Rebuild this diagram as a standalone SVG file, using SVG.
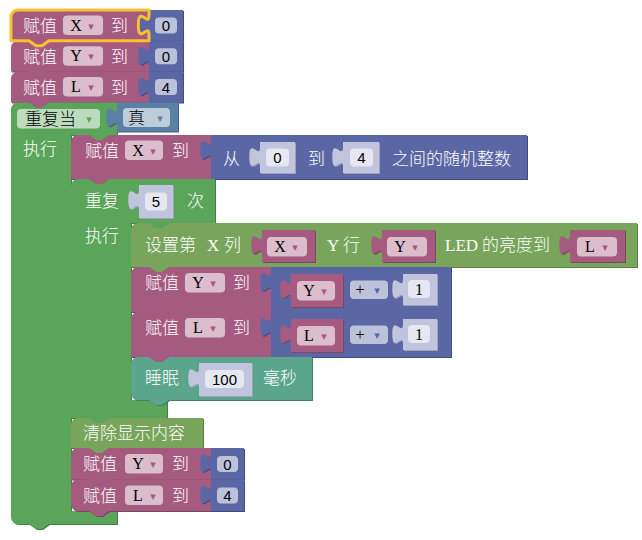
<svg xmlns="http://www.w3.org/2000/svg" width="642" height="540" viewBox="0 0 642 540">
<style>
.pk{fill:#A55B80}.pk.sh{fill:#7E4563}
.bl{fill:#5B67A5}.bl.sh{fill:#434C7E}
.gr{fill:#5BA55B}.gr.sh{fill:#437E43}
.lg{fill:#5B80A5}.lg.sh{fill:#43617E}
.ol{fill:#78A55B}.ol.sh{fill:#5A7E43}
.tl{fill:#5BA58C}.tl.sh{fill:#437E6A}
.sd{fill:#C0C4DD}.sd.sh{fill:#9EA3C2}
.sh{transform:translate(1px,1px)}
.f{fill:#fff;fill-opacity:.6}
.t{font-family:"Liberation Serif","Noto Sans CJK SC",serif;font-size:17px;font-weight:300}
.w{fill:#fff}.k{fill:#000}
.v{font-family:"Liberation Serif",serif;font-size:16px;fill:#000;text-anchor:middle}
.n{font-family:"Liberation Sans",sans-serif;font-size:15px;fill:#000;text-anchor:middle}
.a{font-family:"DejaVu Sans",sans-serif;font-size:11px;text-anchor:middle}
.ap{fill:#A55B80}.ab{fill:#5B67A5}.ag{fill:#5BA55B}.al{fill:#5B80A5}
</style>
<defs>
<path id="p-a1" d="M11,17 A7,7 0 0 1 18,10 H149 V40.8 H49 l-7,5 -6,0 -7,-5 H11 Z"/>
<path id="p-a2" d="M11,47.8 A7,7 0 0 1 18,40.8 H29 l7,5 6,0 7,-5 H149 V71.6 H49 l-7,5 -6,0 -7,-5 H11 Z"/>
<path id="p-a3" d="M11,78.6 A7,7 0 0 1 18,71.6 H29 l7,5 6,0 7,-5 H149 V102.4 H49 l-7,5 -6,0 -7,-5 H11 Z"/>
<path id="p-va1" d="M149,10 H183 V40.8 H149 V35 C149,21.7 138.3,45.7 138.3,25 C138.3,4.3 149,28.3 149,15 Z"/>
<path id="p-va2" d="M149,40.8 H183 V71.6 H149 V65.8 C149,52.5 138.3,76.5 138.3,55.8 C138.3,35.1 149,59.1 149,45.8 Z"/>
<path id="p-va3" d="M149,71.6 H183 V102.4 H149 V96.6 C149,83.3 138.3,107.3 138.3,86.6 C138.3,65.9 149,89.9 149,76.6 Z"/>
<path id="p-b" d="M11,109.4 A7,7 0 0 1 18,102.4 H29 l7,5 6,0 7,-5 H117 V135 H109 l-7,5 -6,0 -7,-5 H71 V511 H117 V524 H49 l-7,5 -6,0 -7,-5 H18 A7,7 0 0 1 11,517 Z"/>
<path id="p-true" d="M117,102.4 H178 V131.4 H117 V127.4 C117,114.1 106.3,138.1 106.3,117.4 C106.3,96.7 117,120.7 117,107.4 Z"/>
<path id="p-b1" d="M71,142 A7,7 0 0 1 78,135 H89 l7,5 6,0 7,-5 H211 V179 H109 l-7,5 -6,0 -7,-5 H71 Z"/>
<path id="p-rand" d="M211,135 H527 V179 H211 V160 C211,146.7 200.3,170.7 200.3,150 C200.3,129.3 211,153.3 211,140 Z"/>
<path id="p-s0" d="M260,142 H295 V173 H260 V167 C260,153.7 249.3,177.7 249.3,157 C249.3,136.3 260,160.3 260,147 Z"/>
<path id="p-s4" d="M343,142 H379 V173 H343 V167 C343,153.7 332.3,177.7 332.3,157 C332.3,136.3 343,160.3 343,147 Z"/>
<path id="p-b2" d="M71,186 A7,7 0 0 1 78,179 H89 l7,5 6,0 7,-5 H215 V223 H169 l-7,5 -6,0 -7,-5 H131 V400 H167 V418 H109 l-7,5 -6,0 -7,-5 H71 Z"/>
<path id="p-s5" d="M139,185 H173 V218 H139 V210 C139,196.7 128.3,220.7 128.3,200 C128.3,179.3 139,203.3 139,190 Z"/>
<path id="p-c1" d="M131,230 A7,7 0 0 1 138,223 H149 l7,5 6,0 7,-5 H637 V267 H169 l-7,5 -6,0 -7,-5 H131 Z"/>
<path id="p-vx" d="M262,230 H315 V262 H262 V255 C262,241.7 251.3,265.7 251.3,245 C251.3,224.3 262,248.3 262,235 Z"/>
<path id="p-vy" d="M382,230 H435 V262 H382 V255 C382,241.7 371.3,265.7 371.3,245 C371.3,224.3 382,248.3 382,235 Z"/>
<path id="p-vl" d="M570,230 H625 V262 H570 V255 C570,241.7 559.3,265.7 559.3,245 C559.3,224.3 570,248.3 570,235 Z"/>
<path id="p-c2" d="M131,274 A7,7 0 0 1 138,267 H149 l7,5 6,0 7,-5 H271 V312 H169 l-7,5 -6,0 -7,-5 H131 Z"/>
<path id="p-m2" d="M271,267 H451 V312 H271 V292 C271,278.7 260.3,302.7 260.3,282 C260.3,261.3 271,285.3 271,272 Z"/>
<path id="p-vy2" d="M291,274 H343 V307 H291 V299 C291,285.7 280.3,309.7 280.3,289 C280.3,268.3 291,292.3 291,279 Z"/>
<path id="p-s12" d="M403,274 H437 V305 H403 V299 C403,285.7 392.3,309.7 392.3,289 C392.3,268.3 403,292.3 403,279 Z"/>
<path id="p-c3" d="M131,319 A7,7 0 0 1 138,312 H149 l7,5 6,0 7,-5 H271 V357 H169 l-7,5 -6,0 -7,-5 H131 Z"/>
<path id="p-m3" d="M271,312 H451 V357 H271 V337 C271,323.7 260.3,347.7 260.3,327 C260.3,306.3 271,330.3 271,317 Z"/>
<path id="p-vl3" d="M291,319 H343 V352 H291 V344 C291,330.7 280.3,354.7 280.3,334 C280.3,313.3 291,337.3 291,324 Z"/>
<path id="p-s13" d="M403,319 H437 V350 H403 V344 C403,330.7 392.3,354.7 392.3,334 C392.3,313.3 403,337.3 403,324 Z"/>
<path id="p-c4" d="M131,364 A7,7 0 0 1 138,357 H149 l7,5 6,0 7,-5 H312 V400 H169 l-7,5 -6,0 -7,-5 H138 A7,7 0 0 1 131,393 Z"/>
<path id="p-s100" d="M199,363 H252 V396 H199 V388 C199,374.7 188.3,398.7 188.3,378 C188.3,357.3 199,381.3 199,368 Z"/>
<path id="p-c5" d="M71,425 A7,7 0 0 1 78,418 H89 l7,5 6,0 7,-5 H203 V448 H109 l-7,5 -6,0 -7,-5 H71 Z"/>
<path id="p-c6" d="M71,455 A7,7 0 0 1 78,448 H89 l7,5 6,0 7,-5 H211 V479.5 H109 l-7,5 -6,0 -7,-5 H71 Z"/>
<path id="p-v6" d="M211,448 H244 V479.5 H211 V473 C211,459.7 200.3,483.7 200.3,463 C200.3,442.3 211,466.3 211,453 Z"/>
<path id="p-c7" d="M71,486.5 A7,7 0 0 1 78,479.5 H89 l7,5 6,0 7,-5 H211 V511 H109 l-7,5 -6,0 -7,-5 H78 A7,7 0 0 1 71,504 Z"/>
<path id="p-v7" d="M211,479.5 H244 V511 H211 V504.5 C211,491.2 200.3,515.2 200.3,494.5 C200.3,473.8 211,497.8 211,484.5 Z"/>
</defs>
<rect width="642" height="540" fill="#fff"/>
<g id="connectors"/>

<g id="set-x-0">
<use href="#p-a1" class="pk sh"/><use href="#p-a1" class="pk"/>
<text class="t w" x="23" y="32">赋值</text>
<rect class="f" x="63" y="15.5" width="40" height="19.5" rx="4"/>
<text class="v" x="76" y="30.5">X</text><text class="a ap" x="91" y="29.5">▾</text>
<text class="t w" x="111" y="32">到</text>
</g>
<g id="num-x-0">
<use href="#p-va1" class="bl sh"/><use href="#p-va1" class="bl"/>
<rect class="f" x="155" y="17.5" width="22" height="16" rx="4"/>
<text class="n" x="166" y="31">0</text>
</g>

<g id="set-y-0">
<use href="#p-a2" class="pk sh"/><use href="#p-a2" class="pk"/>
<text class="t w" x="23" y="62.8">赋值</text>
<rect class="f" x="63" y="46.3" width="40" height="19.5" rx="4"/>
<text class="v" x="76" y="61.3">Y</text><text class="a ap" x="91" y="60.3">▾</text>
<text class="t w" x="111" y="62.8">到</text>
</g>
<g id="num-y-0">
<use href="#p-va2" class="bl sh"/><use href="#p-va2" class="bl"/>
<rect class="f" x="155" y="48.3" width="22" height="16" rx="4"/>
<text class="n" x="166" y="61.8">0</text>
</g>

<g id="set-l-4">
<use href="#p-a3" class="pk sh"/><use href="#p-a3" class="pk"/>
<text class="t w" x="23" y="93.6">赋值</text>
<rect class="f" x="63" y="77.1" width="40" height="19.5" rx="4"/>
<text class="v" x="76" y="92.1">L</text><text class="a ap" x="91" y="91.1">▾</text>
<text class="t w" x="111" y="93.6">到</text>
</g>
<g id="num-l-4">
<use href="#p-va3" class="bl sh"/><use href="#p-va3" class="bl"/>
<rect class="f" x="155" y="79.1" width="22" height="16" rx="4"/>
<text class="n" x="166" y="92.6">4</text>
</g>

<g id="while-loop">
<use href="#p-b" class="gr sh"/><use href="#p-b" class="gr"/>
<rect class="f" x="17" y="109" width="83" height="19.5" rx="4"/>
<text class="t k" x="25" y="125">重复当</text><text class="a ag" x="89" y="123">▾</text>
<text class="t w" x="23" y="155">执行</text>
</g>
<g id="bool-true">
<use href="#p-true" class="lg sh"/><use href="#p-true" class="lg"/>
<rect class="f" x="123" y="108" width="47" height="19" rx="4"/>
<text class="t k" x="128" y="124">真</text><text class="a al" x="160" y="122">▾</text>
</g>

<g id="set-x-rand">
<use href="#p-b1" class="pk sh"/><use href="#p-b1" class="pk"/>
<text class="t w" x="85" y="157">赋值</text>
<rect class="f" x="125" y="140.5" width="38" height="19.5" rx="4"/>
<text class="v" x="138" y="155.5">X</text><text class="a ap" x="153" y="154.5">▾</text>
<text class="t w" x="172" y="157">到</text>
</g>
<g id="random-int">
<use href="#p-rand" class="bl sh"/><use href="#p-rand" class="bl"/>
<text class="t w" x="223" y="164.5">从</text>
<text class="t w" x="308" y="164.5">到</text>
<text class="t w" x="392" y="164.5">之间的随机整数</text>
</g>
<g id="rand-from-0">
<use href="#p-s0" class="sd sh"/><use href="#p-s0" class="sd"/>
<rect class="f" x="266" y="148.5" width="23" height="18" rx="4"/>
<text class="n" x="277.5" y="163">0</text>
</g>
<g id="rand-to-4">
<use href="#p-s4" class="sd sh"/><use href="#p-s4" class="sd"/>
<rect class="f" x="350" y="148.5" width="23" height="18" rx="4"/>
<text class="n" x="361.5" y="163">4</text>
</g>

<g id="repeat-5">
<use href="#p-b2" class="gr sh"/><use href="#p-b2" class="gr"/>
<text class="t w" x="85" y="206.5">重复</text>
<text class="t w" x="187" y="206.5">次</text>
<text class="t w" x="85" y="242">执行</text>
</g>
<g id="times-5">
<use href="#p-s5" class="sd sh"/><use href="#p-s5" class="sd"/>
<rect class="f" x="145" y="192.5" width="22" height="18" rx="4"/>
<text class="n" x="156" y="207">5</text>
</g>

<g id="set-led">
<use href="#p-c1" class="ol sh"/><use href="#p-c1" class="ol"/>
<text class="t w" x="145" y="251">设置第 <tspan x="207">X</tspan> <tspan x="224">列</tspan></text>
<text class="t w" x="327" y="251">Y <tspan x="343">行</tspan></text>
<text class="t w" x="445" y="251">LED <tspan x="482">的亮度到</tspan></text>
</g>
<g id="led-x">
<use href="#p-vx" class="pk sh"/><use href="#p-vx" class="pk"/>
<rect class="f" x="267" y="237" width="40" height="19.5" rx="4"/>
<text class="v" x="280" y="252">X</text><text class="a ap" x="295" y="251">▾</text>
</g>
<g id="led-y">
<use href="#p-vy" class="pk sh"/><use href="#p-vy" class="pk"/>
<rect class="f" x="387" y="237" width="40" height="19.5" rx="4"/>
<text class="v" x="400" y="252">Y</text><text class="a ap" x="415" y="251">▾</text>
</g>
<g id="led-l">
<use href="#p-vl" class="pk sh"/><use href="#p-vl" class="pk"/>
<rect class="f" x="577" y="237" width="40" height="19.5" rx="4"/>
<text class="v" x="590" y="252">L</text><text class="a ap" x="605" y="251">▾</text>
</g>

<g id="set-y-inc">
<use href="#p-c2" class="pk sh"/><use href="#p-c2" class="pk"/>
<text class="t w" x="145" y="289">赋值</text>
<rect class="f" x="185" y="273" width="40" height="19.5" rx="4"/>
<text class="v" x="198" y="288">Y</text><text class="a ap" x="213" y="287">▾</text>
<text class="t w" x="233" y="289">到</text>
</g>
<g id="y-plus-1">
<use href="#p-m2" class="bl sh"/><use href="#p-m2" class="bl"/>
<rect class="f" x="350" y="280.5" width="38" height="18.5" rx="4"/>
<text class="v" x="360" y="295">+</text><text class="a ab" x="377" y="294">▾</text>
</g>
<g id="y-var">
<use href="#p-vy2" class="pk sh"/><use href="#p-vy2" class="pk"/>
<rect class="f" x="297" y="281" width="38" height="19.5" rx="4"/>
<text class="v" x="309" y="296">Y</text><text class="a ap" x="324" y="295">▾</text>
</g>
<g id="y-one">
<use href="#p-s12" class="sd sh"/><use href="#p-s12" class="sd"/>
<rect class="f" x="408" y="280" width="22" height="18" rx="4"/>
<text class="v" x="419" y="295">1</text>
</g>

<g id="set-l-inc">
<use href="#p-c3" class="pk sh"/><use href="#p-c3" class="pk"/>
<text class="t w" x="145" y="334">赋值</text>
<rect class="f" x="185" y="318" width="40" height="19.5" rx="4"/>
<text class="v" x="198" y="333">L</text><text class="a ap" x="213" y="332">▾</text>
<text class="t w" x="233" y="334">到</text>
</g>
<g id="l-plus-1">
<use href="#p-m3" class="bl sh"/><use href="#p-m3" class="bl"/>
<rect class="f" x="350" y="325.5" width="38" height="18.5" rx="4"/>
<text class="v" x="360" y="340">+</text><text class="a ab" x="377" y="339">▾</text>
</g>
<g id="l-var">
<use href="#p-vl3" class="pk sh"/><use href="#p-vl3" class="pk"/>
<rect class="f" x="297" y="326" width="38" height="19.5" rx="4"/>
<text class="v" x="309" y="341">L</text><text class="a ap" x="324" y="340">▾</text>
</g>
<g id="l-one">
<use href="#p-s13" class="sd sh"/><use href="#p-s13" class="sd"/>
<rect class="f" x="408" y="325" width="22" height="18" rx="4"/>
<text class="v" x="419" y="340">1</text>
</g>

<g id="sleep">
<use href="#p-c4" class="tl sh"/><use href="#p-c4" class="tl"/>
<text class="t w" x="145" y="384">睡眠</text>
<text class="t w" x="263" y="384">毫秒</text>
</g>
<g id="ms-100">
<use href="#p-s100" class="sd sh"/><use href="#p-s100" class="sd"/>
<rect class="f" x="205" y="370" width="39" height="18" rx="4"/>
<text class="n" x="224.5" y="384.5">100</text>
</g>

<g id="clear">
<use href="#p-c5" class="ol sh"/><use href="#p-c5" class="ol"/>
<text class="t w" x="83" y="439">清除显示内容</text>
</g>

<g id="reset-y">
<use href="#p-c6" class="pk sh"/><use href="#p-c6" class="pk"/>
<text class="t w" x="83" y="470">赋值</text>
<rect class="f" x="125" y="454" width="38" height="19.5" rx="4"/>
<text class="v" x="138" y="469">Y</text><text class="a ap" x="153" y="468">▾</text>
<text class="t w" x="172" y="470">到</text>
</g>
<g id="reset-y-0">
<use href="#p-v6" class="bl sh"/><use href="#p-v6" class="bl"/>
<rect class="f" x="217" y="456" width="21" height="16" rx="4"/>
<text class="n" x="227.5" y="469.5">0</text>
</g>

<g id="reset-l">
<use href="#p-c7" class="pk sh"/><use href="#p-c7" class="pk"/>
<text class="t w" x="83" y="501.5">赋值</text>
<rect class="f" x="125" y="485.5" width="38" height="19.5" rx="4"/>
<text class="v" x="138" y="500.5">L</text><text class="a ap" x="153" y="499.5">▾</text>
<text class="t w" x="172" y="501.5">到</text>
</g>
<g id="reset-l-4">
<use href="#p-v7" class="bl sh"/><use href="#p-v7" class="bl"/>
<rect class="f" x="217" y="487.5" width="21" height="16" rx="4"/>
<text class="n" x="227.5" y="501">4</text>
</g>

<path id="selection" d="M11,17 A7,7 0 0 1 18,10 H149 V15 C149,28.3 138.3,4.3 138.3,25 C138.3,45.7 149,21.7 149,35 V40.8 H49 l-7,5 -6,0 -7,-5 H11 Z" fill="none" stroke="#F7C12F" stroke-width="3" stroke-linejoin="round"/>
</svg>
